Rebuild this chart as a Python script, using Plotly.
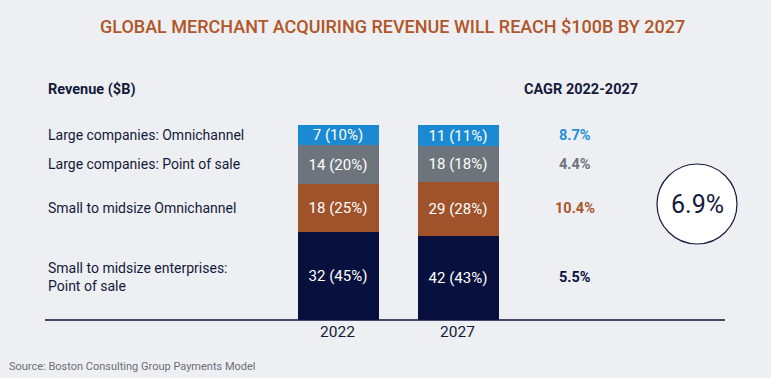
import plotly.graph_objects as go

years = ["2022", "2027"]
segments = [
    "Small to midsize enterprises:<br>Point of sale",
    "Small to midsize Omnichannel",
    "Large companies: Point of sale",
    "Large companies: Omnichannel",
]
revenue_2022 = [32, 18, 14, 7]
revenue_2027 = [42, 29, 18, 11]
share_2022 = [45, 25, 20, 10]
share_2027 = [43, 28, 18, 11]
totals = [71, 100]
cagr = ["5.5%", "10.4%", "4.4%", "8.7%"]
total_cagr = "6.9%"
colors = ["#08103D", "#A0522A", "#6D747B", "#1B8AD2"]
cagr_colors = ["#0B1240", "#A8582A", "#6D747B", "#1F90D8"]

W, H = 771, 378
BG = "#EEEFF2"
NAVY = "#141A3C"
FONT = "Roboto"

def py(p):  # pixel y -> paper
    return (H - p) / H

def px(p):
    return p / W

fig = go.Figure()
for i, seg in enumerate(segments):
    vals = [revenue_2022[i], revenue_2027[i]]
    shares = [share_2022[i], share_2027[i]]
    fig.add_trace(go.Bar(
        x=years, y=shares, name=seg, marker=dict(color=colors[i], line=dict(width=0)),
        text=[f"{v} ({s}%)" for v, s in zip(vals, shares)],
        textposition="inside", insidetextanchor="middle", constraintext="none",
        textfont=dict(family=FONT, size=15, color="white"),
        width=0.675, showlegend=False, hoverinfo="skip",
    ))

annotations = []
for i, seg in enumerate(segments):
    mids = []
    for shares in (share_2022, share_2027):
        base = sum(shares[:i])
        mids.append(base + shares[i] / 2)
    ym = sum(mids) / 2
    annotations.append(dict(x=px(46), xref="paper", y=ym, yref="y", text=seg,
                            xanchor="left", yanchor="middle", showarrow=False, align="left",
                            font=dict(family=FONT, size=14, color=NAVY)))
    annotations.append(dict(x=px(575), xref="paper", y=ym, yref="y", text=f"<b>{cagr[i]}</b>",
                            xanchor="center", yanchor="middle", showarrow=False,
                            font=dict(family=FONT, size=14.5, color=cagr_colors[i])))

for yr, t, s in zip(years, totals, [sum(share_2022), sum(share_2027)]):
    annotations.append(dict(x=yr, y=s, xref="x", yref="y", text=f"<b>{t}</b>",
                            yanchor="bottom", yshift=2, showarrow=False,
                            font=dict(family=FONT, size=15, color=NAVY)))

annotations += [
    dict(x=px(392), xref="paper", y=py(26), yref="paper",
         text="GLOBAL MERCHANT ACQUIRING REVENUE WILL REACH $100B BY 2027",
         showarrow=False, xanchor="center", yanchor="middle",
         font=dict(family=FONT, size=18, color="#B15628", weight=500)),
    dict(x=px(46), xref="paper", y=py(89), yref="paper", text="<b>Revenue ($B)</b>",
         showarrow=False, xanchor="left", yanchor="middle",
         font=dict(family=FONT, size=14.5, color=NAVY)),
    dict(x=px(581), xref="paper", y=py(89), yref="paper", text="<b>CAGR 2022-2027</b>",
         showarrow=False, xanchor="center", yanchor="middle",
         font=dict(family=FONT, size=14.5, color=NAVY)),
    dict(x=px(697), xref="paper", y=py(204), yref="paper", text=total_cagr,
         showarrow=False, xanchor="center", yanchor="middle",
         font=dict(family=FONT, size=25, color=NAVY)),
    dict(x=px(7), xref="paper", y=py(366), yref="paper",
         text="Source: Boston Consulting Group Payments Model",
         showarrow=False, xanchor="left", yanchor="middle",
         font=dict(family=FONT, size=11, color="#6B6E78")),
]

shapes = [
    dict(type="line", xref="paper", yref="paper", x0=px(45), x1=px(725),
         y0=py(320), y1=py(320), line=dict(color="#0B1240", width=1.5)),
    dict(type="circle", xref="paper", yref="paper", xsizemode="pixel", ysizemode="pixel",
         xanchor=px(697), yanchor=py(204), x0=-40, x1=40, y0=-40, y1=40,
         fillcolor="white", line=dict(color="#141A3C", width=1.2), layer="below"),
]

fig.update_layout(
    width=W, height=H, paper_bgcolor=BG, plot_bgcolor="rgba(0,0,0,0)",
    margin=dict(l=0, r=0, t=0, b=0), barmode="stack", bargap=0,
    xaxis=dict(domain=[px(277.5), px(517.5)], range=[-0.5, 1.5], showgrid=False,
               zeroline=False, showline=False, ticks="",
               tickfont=dict(family=FONT, size=15.5, color=NAVY)),
    yaxis=dict(domain=[py(320), py(125)], range=[0, 100], visible=False),
    annotations=annotations, shapes=shapes,
)
fig.write_html("out.html", config={"displayModeBar": False},
               post_script="document.body.style.margin='0';document.body.style.background='" + BG + "';")
